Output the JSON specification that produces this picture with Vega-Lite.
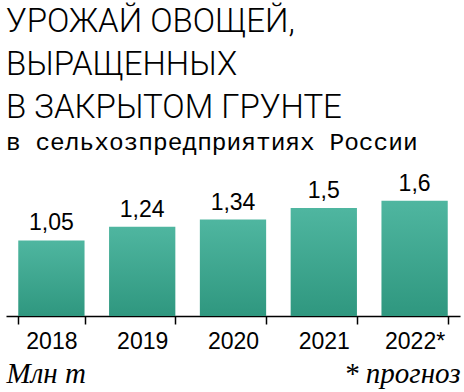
{
  "$schema": "https://vega.github.io/schema/vega-lite/v6.json",
  "width": 454,
  "height": 144,
  "autosize": {"type": "none"},
  "padding": {"left": 6, "top": 172, "right": 4, "bottom": 76},
  "background": "white",
  "config": {"view": {"stroke": null}},
  "title": {
    "text": ["УРОЖАЙ ОВОЩЕЙ,", "ВЫРАЩЕННЫХ", "В ЗАКРЫТОМ ГРУНТЕ"],
    "subtitle": "в сельхозпредприятиях России",
    "anchor": "start",
    "frame": "group",
    "font": "Roboto",
    "fontSize": 33,
    "fontWeight": 300,
    "lineHeight": 43,
    "color": "#000000",
    "subtitleFont": "Liberation Mono",
    "subtitleFontSize": 24.5,
    "subtitleColor": "#000000",
    "subtitlePadding": 6,
    "offset": 18
  },
  "data": {
    "values": [
      {"year": "2018", "value": 1.05, "label": "1,05"},
      {"year": "2019", "value": 1.24, "label": "1,24"},
      {"year": "2020", "value": 1.34, "label": "1,34"},
      {"year": "2021", "value": 1.5, "label": "1,5"},
      {"year": "2022*", "value": 1.6, "label": "1,6"}
    ]
  },
  "resolve": {"axis": {"x": "independent"}},
  "layer": [
    {
      "mark": {
        "type": "bar",
        "color": {
          "gradient": "linear",
          "x1": 0, "y1": 0, "x2": 0, "y2": 1,
          "stops": [
            {"offset": 0, "color": "#4fb6a0"},
            {"offset": 1, "color": "#2f977f"}
          ]
        }
      },
      "encoding": {
        "x": {
          "field": "year",
          "type": "nominal",
          "sort": null,
          "scale": {"paddingInner": 0.27, "paddingOuter": 0.135},
          "axis": {
            "orient": "bottom",
            "labelAngle": 0,
            "labelFont": "Liberation Sans",
            "labelFontSize": 23,
            "labelColor": "#000000",
            "labelPadding": 6,
            "tickSize": 8,
            "tickColor": "#000000",
            "tickWidth": 1.5,
            "tickBand": "extent",
            "domainColor": "#000000",
            "domainWidth": 1.5,
            "title": "Млн т",
            "titleFont": "Liberation Serif",
            "titleFontStyle": "italic",
            "titleFontWeight": "normal",
            "titleFontSize": 29,
            "titleColor": "#000000",
            "titleAnchor": "start",
            "titleAlign": "left",
            "titlePadding": 6
          }
        },
        "y": {
          "field": "value",
          "type": "quantitative",
          "scale": {"domain": [0, 2]},
          "axis": null
        }
      }
    },
    {
      "mark": {
        "type": "text",
        "baseline": "alphabetic",
        "dy": -10,
        "font": "Liberation Sans",
        "fontSize": 23,
        "color": "#000000"
      },
      "encoding": {
        "x": {
          "field": "year",
          "type": "nominal",
          "sort": null,
          "axis": {
            "orient": "bottom",
            "labels": false,
            "ticks": false,
            "domain": false,
            "title": "* прогноз",
            "titleFont": "Liberation Serif",
            "titleFontStyle": "italic",
            "titleFontWeight": "normal",
            "titleFontSize": 29,
            "titleColor": "#000000",
            "titleAnchor": "end",
            "titleAlign": "right",
            "titlePadding": 43
          }
        },
        "y": {"field": "value", "type": "quantitative"},
        "text": {"field": "label"}
      }
    }
  ]
}
